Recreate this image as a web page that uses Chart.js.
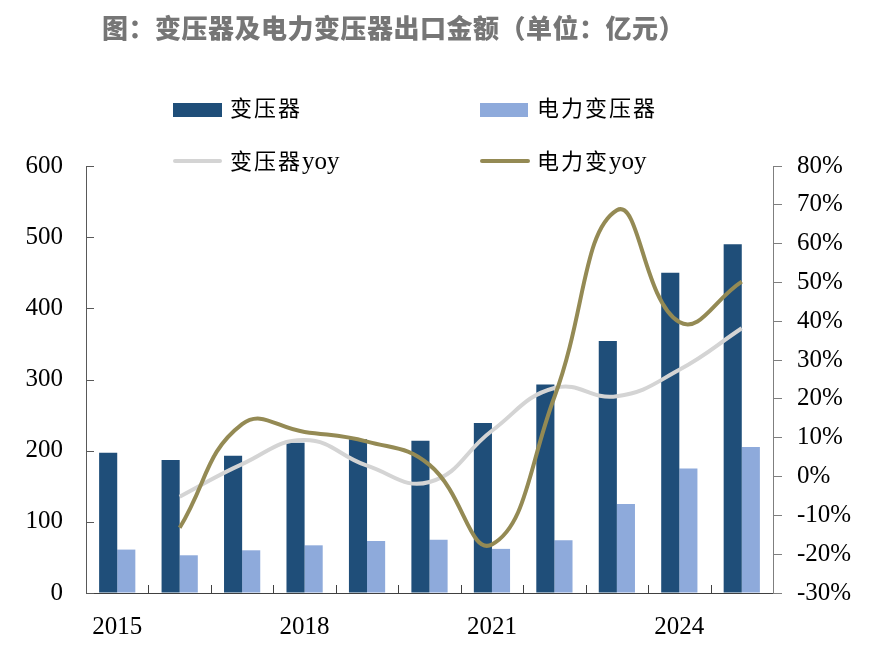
<!DOCTYPE html>
<html>
<head>
<meta charset="utf-8">
<script src="https://cdn.jsdelivr.net/npm/chart.js@4.4.1/dist/chart.umd.min.js"></script>
<style>
  html, body { margin: 0; padding: 0; background: #fff; }
  #wrap { position: relative; width: 874px; height: 653px; overflow: hidden; }
  #barChart { position: absolute; left: 0; top: 0; }
  .title { position: absolute; left: 102px; top: 8px; font-family: "Noto Sans CJK SC", sans-serif; font-weight: 900; font-size: 26px; letter-spacing: 0.5px; line-height: 38px; color: #767676; white-space: nowrap; }
  .lg { position: absolute; font-family: "Liberation Serif", "Noto Sans CJK SC", serif; font-size: 22px; line-height: 30px; color: #000; letter-spacing: 2px; white-space: nowrap; }
  .lg span { letter-spacing: 0; font-size: 25px; }
  .sw { position: absolute; }
</style>
</head>
<body>
<div id="wrap">
  <canvas id="barChart" width="874" height="653"></canvas>
  <div class="title">图：变压器及电力变压器出口金额（单位：亿元）</div>

  <div class="sw" style="left:173px;top:103px;width:49px;height:14px;background:#1F4E79"></div>
  <div class="lg" style="left:230px;top:94px">变压器</div>
  <div class="sw" style="left:480px;top:103px;width:48px;height:14px;background:#8EAADB"></div>
  <div class="lg" style="left:537px;top:94px">电力变压器</div>

  <div class="sw" style="left:173px;top:159px;width:49px;height:4px;background:#D4D4D4;border-radius:2px"></div>
  <div class="lg" style="left:230px;top:146px">变压器<span>yoy</span></div>
  <div class="sw" style="left:480px;top:159px;width:50px;height:4px;background:#948A54;border-radius:2px"></div>
  <div class="lg" style="left:537px;top:146px">电力变<span>yoy</span></div>
</div>
<script>
const years = ['2015', '2016', '2017', '2018', '2019', '2020', '2021', '2022', '2023', '2024', '2025']
const transformer = [197, 187, 193, 211, 216, 214, 239, 293, 354, 450, 490]
const powerTransformer = [61, 53, 60, 67, 73, 75, 62, 74, 125, 175, 205]
// yoy in %
const transformerYoy = [null, -5.2, 3.2, 9.4, 2.8, -1.4, 11.8, 22.8, 20.7, 27.5, 38.2]
const powerYoy = [null, -13.2, 13.5, 11.5, 9.0, 3.0, -17.5, 20.5, 68.6, 39.8, 50.2]
const shownYears = ['2015', '2018', '2021', '2024']

let colors = {
  DARK: "#1F4E79",
  LIGHT: "#8EAADB",
  GREY: "#D4D4D4",
  OLIVE: "#948A54"
}
const serif = "'Liberation Serif', 'Times New Roman', serif"

// small ticks pointing into the plot: left axis and category boundaries
const innerTicks = {
  id: 'innerTicks',
  afterDraw(chart) {
    const { ctx, chartArea, scales } = chart
    ctx.save()
    ctx.lineWidth = 1
    ctx.strokeStyle = '#595959'
    scales.y.ticks.forEach(t => {
      const y = Math.round(scales.y.getPixelForValue(t.value)) + 0.5
      ctx.beginPath()
      ctx.moveTo(chartArea.left, y)
      ctx.lineTo(chartArea.left + 8, y)
      ctx.stroke()
    })
    ctx.strokeStyle = '#404040'
    for (let i = 1; i < years.length; i++) {
      const x = Math.round((scales.x.getPixelForValue(i - 1) + scales.x.getPixelForValue(i)) / 2) + 0.5
      ctx.beginPath()
      ctx.moveTo(x, chartArea.bottom)
      ctx.lineTo(x, chartArea.bottom - 8)
      ctx.stroke()
    }
    ctx.restore()
  }
}

const ctx = document.getElementById("barChart");

new Chart(ctx, {
  type: 'bar',
  data: {
    labels: years,
    datasets: [
      {
        type: 'line',
        label: '变压器yoy',
        data: transformerYoy,
        yAxisID: 'y1',
        borderColor: colors.GREY,
        borderWidth: 4,
        pointRadius: 0,
        tension: 0.45,
        fill: false,
        order: 1
      },
      {
        type: 'line',
        label: '电力变yoy',
        data: powerYoy,
        yAxisID: 'y1',
        borderColor: colors.OLIVE,
        borderWidth: 4,
        pointRadius: 0,
        tension: 0.45,
        fill: false,
        order: 0
      },
      {
        label: '变压器',
        data: transformer,
        yAxisID: 'y',
        backgroundColor: colors.DARK,
        categoryPercentage: 0.58,
        barPercentage: 1.0,
        order: 3
      },
      {
        label: '电力变压器',
        data: powerTransformer,
        yAxisID: 'y',
        backgroundColor: colors.LIGHT,
        categoryPercentage: 0.58,
        barPercentage: 1.0,
        order: 3
      }
    ]
  },
  options: {
    responsive: false,
    animation: false,
    layout: { padding: { top: 166, left: 0, right: 0, bottom: 0 } },
    plugins: {
      legend: { display: false },
      title: { display: false },
      tooltip: { enabled: false }
    },
    scales: {
      x: {
        offset: true,
        grid: { offset: true, drawOnChartArea: false, drawTicks: false },
        border: { display: true, color: '#404040', width: 1 },
        ticks: {
          autoSkip: false,
          maxRotation: 0,
          padding: 19,
          color: '#000',
          font: { family: serif, size: 25 },
          callback: (v, i) => shownYears.includes(years[i]) ? years[i] : ''
        },
        afterFit: scale => { scale.height = 60 }
      },
      y: {
        position: 'left',
        min: 0,
        max: 600,
        ticks: {
          stepSize: 100,
          padding: 23,
          color: '#000',
          font: { family: serif, size: 25 }
        },
        grid: { drawOnChartArea: false, drawTicks: false },
        border: { display: true, color: '#595959', width: 1 },
        afterFit: scale => { scale.width = 86 }
      },
      y1: {
        position: 'right',
        min: -30,
        max: 80,
        ticks: {
          stepSize: 10,
          padding: 15,
          color: '#000',
          font: { family: serif, size: 25 },
          callback: v => v + '%'
        },
        grid: { drawOnChartArea: false, drawTicks: true, tickLength: 9, color: '#7f7f7f' },
        border: { display: true, color: '#7f7f7f', width: 1 },
        afterFit: scale => { scale.width = 101 }
      }
    }
  },
  plugins: [innerTicks]
});
</script>
</body>
</html>
